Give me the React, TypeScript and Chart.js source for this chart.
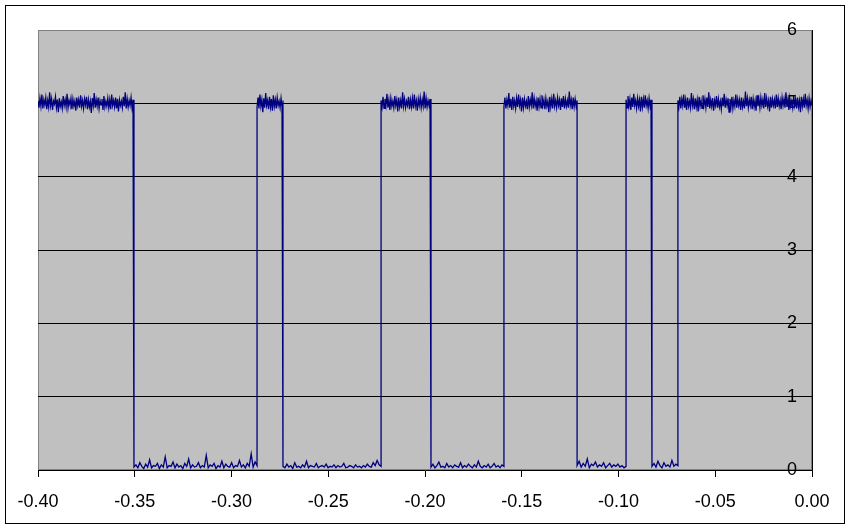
import React, { useEffect, useRef } from "react";
import { Chart, registerables } from "chart.js";

Chart.register(...registerables);

// Transition times (x) between high and low levels, including the axis ends
const edgeTimes = [-0.4, -0.3504, -0.2868, -0.2734, -0.2227, -0.1969, -0.1592, -0.1214, -0.0961, -0.0827, -0.0693, 0.0];

const seg0 = [5.03, 4.94, 5.07, 4.96, 5.12, 4.93, 5.05, 4.98, 5.08, 4.92, 5.04, 4.95, 5.15, 4.97, 5.06, 4.91, 5.03, 4.99, 5.09, 4.94, 5.05, 4.88, 5.07, 4.96, 5.02, 4.93, 5.10, 4.97, 5.05, 4.95, 5.13, 4.94, 5.04, 4.98, 5.07, 4.92, 5.06, 4.96, 5.03, 4.90, 5.08, 4.97, 5.05, 4.94, 5.11, 4.96, 5.04, 4.93, 5.06, 4.98, 5.09, 4.92, 5.05, 4.95, 5.03, 4.87, 5.07, 4.97, 5.14, 4.94, 5.05, 4.96, 5.08, 4.93, 5.04, 4.98, 5.06, 4.91, 5.10, 4.95, 5.03, 4.96, 5.07, 4.94, 5.05, 4.92, 5.12, 4.97, 5.04, 4.95, 5.08, 4.93, 5.06, 4.89, 5.05, 4.97, 5.03, 4.94, 5.09, 4.96, 5.15, 4.93, 5.06, 4.95, 5.04, 4.97, 5.08, 4.94, 5.05, 4.98];
const seg1 = [0.04, 0.07, 0.03, 0.10, 0.05, 0.02, 0.08, 0.04, 0.14, 0.03, 0.06, 0.05, 0.09, 0.02, 0.07, 0.04, 0.18, 0.03, 0.06, 0.05, 0.11, 0.03, 0.08, 0.04, 0.06, 0.02, 0.09, 0.05, 0.15, 0.03, 0.07, 0.04, 0.05, 0.10, 0.03, 0.06, 0.04, 0.20, 0.03, 0.07, 0.05, 0.09, 0.02, 0.06, 0.04, 0.12, 0.03, 0.08, 0.05, 0.04, 0.10, 0.03, 0.06, 0.05, 0.13, 0.04, 0.07, 0.03, 0.09, 0.05, 0.22, 0.04, 0.11, 0.06];
const seg2 = [4.95, 5.08, 4.93, 5.12, 4.96, 5.05, 4.88, 5.07, 4.94, 5.14, 4.97, 5.04, 4.92, 5.09, 4.95, 5.06, 4.90, 5.11, 4.96, 5.05, 4.93, 5.08, 4.97, 5.03, 4.94, 5.07, 4.95, 5.04];
const seg3 = [0.05, 0.03, 0.08, 0.04, 0.06, 0.02, 0.10, 0.04, 0.05, 0.03, 0.07, 0.04, 0.12, 0.03, 0.06, 0.05, 0.04, 0.09, 0.03, 0.05, 0.06, 0.04, 0.08, 0.03, 0.05, 0.04, 0.07, 0.03, 0.06, 0.04, 0.05, 0.09, 0.03, 0.04, 0.06, 0.05, 0.03, 0.07, 0.04, 0.05, 0.03, 0.06, 0.04, 0.08, 0.05, 0.04, 0.10, 0.06, 0.13, 0.07, 0.05];
const seg4 = [5.04, 4.95, 5.09, 4.93, 5.06, 4.97, 5.13, 4.94, 5.05, 4.91, 5.07, 4.96, 5.03, 4.94, 5.10, 4.97, 5.05, 4.89, 5.08, 4.95, 5.04, 4.93, 5.15, 4.96, 5.06, 4.94, 5.03, 4.97, 5.09, 4.92, 5.05, 4.95, 5.07, 4.93, 5.12, 4.96, 5.04, 4.90, 5.06, 4.97, 5.08, 4.94, 5.05, 4.96, 5.16, 4.93, 5.07, 4.95, 5.04, 4.97, 5.06, 4.95];
const seg5 = [0.04, 0.08, 0.03, 0.06, 0.11, 0.04, 0.05, 0.03, 0.09, 0.04, 0.06, 0.03, 0.07, 0.05, 0.04, 0.10, 0.03, 0.06, 0.04, 0.08, 0.05, 0.03, 0.07, 0.04, 0.12, 0.05, 0.03, 0.06, 0.04, 0.08, 0.03, 0.05, 0.09, 0.04, 0.06, 0.03, 0.07, 0.05];
const seg6 = [4.96, 5.08, 4.93, 5.05, 4.97, 5.14, 4.94, 5.06, 4.91, 5.09, 4.96, 5.04, 4.93, 5.07, 4.95, 5.12, 4.97, 5.05, 4.89, 5.08, 4.94, 5.06, 4.96, 5.03, 4.92, 5.10, 4.95, 5.05, 4.97, 5.15, 4.93, 5.07, 4.96, 5.04, 4.90, 5.08, 4.95, 5.06, 4.94, 5.11, 4.97, 5.05, 4.92, 5.07, 4.96, 5.03, 4.88, 5.09, 4.95, 5.06, 4.93, 5.13, 4.96, 5.04, 4.94, 5.08, 4.97, 5.05, 4.91, 5.07, 4.95, 5.10, 4.93, 5.06, 4.96, 5.04, 4.94, 5.16, 4.97, 5.05, 4.92, 5.08, 4.95, 5.06, 4.96, 5.04];
const seg7 = [0.06, 0.12, 0.04, 0.09, 0.05, 0.15, 0.03, 0.08, 0.06, 0.11, 0.04, 0.07, 0.05, 0.10, 0.03, 0.06, 0.09, 0.04, 0.07, 0.05, 0.08, 0.04, 0.06, 0.03, 0.05];
const seg8 = [5.05, 4.94, 5.10, 4.96, 5.06, 4.91, 5.08, 4.95, 5.13, 4.97, 5.04, 4.93, 5.07, 4.96, 5.05, 4.89, 5.09, 4.95, 5.06, 4.94, 5.11, 4.97, 5.04, 4.93, 5.07, 4.96, 5.05, 4.98];
const seg9 = [0.05, 0.09, 0.04, 0.12, 0.06, 0.03, 0.10, 0.05, 0.07, 0.04, 0.13, 0.05, 0.08, 0.06];
const seg10 = [5.04, 4.95, 5.09, 4.93, 5.06, 4.97, 5.12, 4.94, 5.05, 4.91, 5.08, 4.96, 5.03, 4.94, 5.14, 4.97, 5.06, 4.92, 5.07, 4.95, 5.05, 4.89, 5.09, 4.96, 5.04, 4.93, 5.11, 4.97, 5.06, 4.94, 5.08, 4.95, 5.15, 4.93, 5.05, 4.96, 5.07, 4.90, 5.04, 4.97, 5.10, 4.94, 5.06, 4.95, 5.03, 4.92, 5.08, 4.96, 5.13, 4.94, 5.05, 4.97, 5.07, 4.88, 5.06, 4.95, 5.09, 4.93, 5.04, 4.96, 5.12, 4.94, 5.06, 4.97, 5.05, 4.91, 5.08, 4.95, 5.03, 4.93, 5.16, 4.96, 5.07, 4.94, 5.05, 4.97, 5.09, 4.92, 5.06, 4.95, 5.04, 4.90, 5.11, 4.96, 5.06, 4.94, 5.08, 4.97, 5.05, 4.93, 5.14, 4.95, 5.07, 4.96, 5.04, 4.89, 5.09, 4.94, 5.06, 4.97, 5.05, 4.93, 5.12, 4.95, 5.07, 4.96, 5.04, 4.92, 5.08, 4.97, 5.06, 4.94, 5.15, 4.95, 5.05, 4.91, 5.07, 4.96, 5.03, 4.94, 5.10, 4.97, 5.06, 4.93, 5.08, 4.95, 5.04, 4.88, 5.09, 4.96, 5.06, 4.94, 5.13, 4.97, 5.05, 4.93, 5.07, 4.95, 5.04, 4.97];

const segments = [seg0, seg1, seg2, seg3, seg4, seg5, seg6, seg7, seg8, seg9, seg10];

// Axis settings
const xMin = -0.4;
const xMax = 0.0;
const xStep = 0.05;
const yMin = 0;
const yMax = 6;
const yStep = 1;

function buildPoints() {
  const pts: { x: number; y: number }[] = [];
  segments.forEach((vals, k) => {
    const t0 = edgeTimes[k];
    const t1 = edgeTimes[k + 1];
    const n = vals.length;
    vals.forEach((v, j) => {
      pts.push({ x: t0 + ((t1 - t0) * j) / (n - 1), y: v });
    });
  });
  return pts;
}

const FONT = "'Liberation Sans', Arial, sans-serif";

const framePlugin = {
  id: "frame",
  beforeDraw(chart: any) {
    const { ctx, chartArea, width, height } = chart;
    ctx.save();
    ctx.fillStyle = "#ffffff";
    ctx.fillRect(0, 0, width, height);
    ctx.strokeStyle = "#000000";
    ctx.lineWidth = 1;
    ctx.strokeRect(5.5, 5.5, width - 11, height - 11);
    ctx.fillStyle = "#c0c0c0";
    ctx.fillRect(chartArea.left, chartArea.top, chartArea.right - chartArea.left, chartArea.bottom - chartArea.top);
    ctx.strokeStyle = "#808080";
    ctx.strokeRect(chartArea.left + 0.5, chartArea.top + 0.5, chartArea.right - chartArea.left - 1, chartArea.bottom - chartArea.top - 1);
    ctx.restore();
  },
};

export default function App() {
  const ref = useRef<HTMLCanvasElement | null>(null);
  useEffect(() => {
    if (!ref.current) return;
    const chart = new Chart(ref.current, {
      type: "line",
      data: {
        datasets: [
          {
            data: buildPoints(),
            borderColor: "#000080",
            borderWidth: 1.3,
            pointRadius: 0,
            tension: 0,
            fill: false,
          },
        ],
      },
      options: {
        animation: false,
        responsive: false,
        events: [],
        layout: { padding: { left: 38, right: 38, top: 30, bottom: 19 } },
        plugins: { legend: { display: false }, tooltip: { enabled: false } },
        scales: {
          x: {
            type: "linear",
            min: xMin,
            max: xMax,
            afterFit: (s: any) => {
              s.height = 40;
            },
            grid: { drawOnChartArea: false, drawTicks: true, tickLength: 7, color: "#000000" },
            border: { display: true, color: "#000000", width: 1 },
            ticks: {
              stepSize: xStep,
              padding: 14,
              color: "#000000",
              font: { family: FONT, size: 18 },
              maxRotation: 0,
              callback: (v: any) => (Math.abs(Number(v)) < 1e-9 ? "0.00" : Number(v).toFixed(2)),
            },
          },
          y: {
            position: "right",
            min: yMin,
            max: yMax,
            z: 1,
            afterFit: (s: any) => {
              s.width = 0;
            },
            grid: {
              drawTicks: false,
              color: (c: any) => (c.tick && (c.tick.value === yMax || c.tick.value === yMin) ? "rgba(0,0,0,0)" : "#000000"),
            },
            border: { display: true, color: "#000000", width: 1 },
            ticks: {
              stepSize: yStep,
              mirror: true,
              padding: -15,
              color: "#000000",
              font: { family: FONT, size: 18 },
            },
          },
        },
      },
      plugins: [framePlugin],
    });
    return () => chart.destroy();
  }, []);
  return (
    <div style={{ position: "fixed", left: 0, top: 0, width: 850, height: 529 }}>
      <canvas ref={ref} width={850} height={529} style={{ width: 850, height: 529, display: "block" }} />
    </div>
  );
}
